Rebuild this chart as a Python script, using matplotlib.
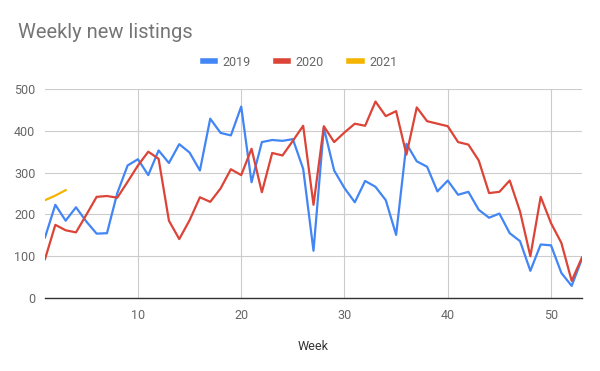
import matplotlib.pyplot as plt

weeks = list(range(1, 54))

listings_2019 = [
    145, 223, 185, 217, 183, 154, 155, 251, 317, 332,
    294, 353, 323, 368, 348, 305, 429, 395, 389, 458,
    277, 373, 378, 376, 380, 309, 113, 407, 305, 263,
    229, 280, 266, 234, 151, 369, 327, 314, 255, 281,
    247, 254, 211, 192, 202, 155, 136, 65, 128, 126,
    60, 29, 94,
]

listings_2020 = [
    93, 175, 162, 157, 199, 242, 244, 240, 278, 317,
    350, 333, 185, 141, 186, 241, 230, 262, 308, 294,
    357, 253, 347, 341, 376, 412, 223, 411, 373, 396,
    417, 412, 470, 435, 447, 343, 456, 423, 417, 411,
    373, 367, 329, 251, 254, 281, 207, 100, 242, 179,
    132, 41, 97,
]

listings_2021 = [234, 245, 258]

plt.rcParams["font.family"] = ["Roboto", "DejaVu Sans"]

fig = plt.figure(figsize=(6.0, 3.71), dpi=100)
ax = fig.add_axes([45 / 600, 1 - 298 / 371, 537 / 600, 209 / 371])

ax.plot(weeks, listings_2019, color="#4285F4", lw=1.6, label="2019")
ax.plot(weeks, listings_2020, color="#DB4437", lw=1.6, label="2020")
ax.plot(weeks[:len(listings_2021)], listings_2021, color="#F4B400", lw=1.6, label="2021")

ax.set_xlim(1, 53)
ax.set_ylim(0, 500)
ax.set_xticks([10, 20, 30, 40, 50])
ax.set_yticks([0, 100, 200, 300, 400, 500])
ax.grid(True, color="#cccccc", lw=0.8)
ax.set_axisbelow(True)
for s in ["top", "right", "left"]:
    ax.spines[s].set_visible(False)
ax.spines["bottom"].set_color("#333333")
ax.spines["bottom"].set_linewidth(1.0)
ax.spines["bottom"].set_zorder(3)
ax.tick_params(length=0, labelsize=9, labelcolor="#666666", pad=8)
ax.tick_params(axis="y", pad=7)
ax.set_xlabel("Week", fontsize=9, color="#333333", labelpad=13)

fig.text(18 / 600, 1 - 32 / 371, "Weekly new listings", fontsize=14.5,
         color="#757575", va="center", ha="left")

fig.legend(loc="center", bbox_to_anchor=(300 / 600, 1 - 62 / 371), ncol=3,
           frameon=False, fontsize=9, handlelength=1.0, handletextpad=0.6,
           columnspacing=2.0, labelcolor="#666666")
for line in fig.legends[0].get_lines():
    line.set_linewidth(4)

fig.savefig("out.png", dpi=100)
